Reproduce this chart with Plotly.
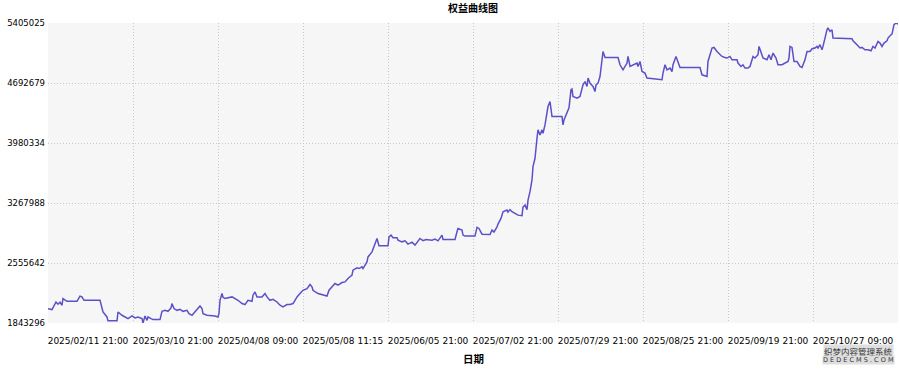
import plotly.graph_objects as go

# ---- data ----
bar_index = [
    0, 4, 8, 10, 12, 14, 15, 17, 19, 29, 32, 34, 36, 52, 53, 55, 59, 60, 69, 70,
    74, 77, 80, 84, 87, 90, 94, 95, 97, 99, 100, 103, 105, 112, 114, 117, 120, 123, 124, 126,
    129, 132, 135, 139, 141, 144, 147, 150, 152, 154, 155, 159, 167, 170, 171, 172, 174, 175, 177, 184,
    187, 190, 194, 197, 200, 204, 205, 207, 209, 214, 217, 219, 222, 225, 229, 232, 235, 239, 242, 245,
    247, 249, 252, 255, 259, 262, 264, 265, 270, 277, 279, 281, 284, 287, 290, 294, 297, 300, 304, 305,
    309, 311, 314, 315, 319, 320, 324, 326, 328, 329, 331, 340, 341, 343, 345, 349, 350, 354, 357, 360,
    364, 367, 370, 372, 375, 378, 384, 387, 390, 394, 395, 407, 409, 410, 414, 415, 417, 427, 429, 431,
    434, 442, 444, 446, 449, 450, 453, 455, 459, 460, 462, 464, 467, 470, 474, 475, 477, 479, 480, 482,
    484, 485, 487, 488, 489, 490, 492, 494, 495, 497, 499, 500, 502, 503, 504, 514, 515, 516, 518, 520,
    521, 523, 524, 525, 529, 532, 535, 537, 539, 540, 542, 545, 547, 548, 550, 552, 554, 555, 557, 570,
    572, 575, 579, 580, 582, 585, 589, 590, 592, 594, 597, 599, 614, 615, 617, 619, 622, 624, 625, 628,
    630, 632, 652, 654, 659, 660, 664, 666, 669, 672, 674, 677, 679, 682, 684, 689, 690, 693, 695, 697,
    700, 702, 704, 705, 707, 710, 711, 713, 715, 719, 721, 723, 725, 728, 730, 734, 737, 740, 741, 742,
    744, 746, 749, 752, 754, 757, 759, 762, 764, 767, 769, 770, 772, 774, 775, 777, 779, 780, 782, 784,
    785, 804, 805, 809, 812, 814, 817, 820, 823, 825, 827, 830, 832, 834, 836, 839, 840, 843, 844, 846,
    848, 850,
]

equity = [
    2012000, 2003000, 2093000, 2066000, 2090000, 2054000, 2134000, 2113000, 2101000, 2101000,
    2161000, 2153000, 2113000, 2113000, 2054000, 1974000, 1915000, 1869000, 1869000, 1974000,
    1935000, 1915000, 1896000, 1927000, 1903000, 1915000, 1896000, 1843296, 1927000, 1875000,
    1915000, 1896000, 1884000, 1884000, 1982000, 1994000, 1982000, 2022000, 2074000, 2015000,
    1994000, 2006000, 1982000, 1994000, 1955000, 1935000, 1974000, 2015000, 2046000, 2015000,
    1955000, 1935000, 1927000, 1915000, 1959000, 2113000, 2193000, 2149000, 2134000, 2153000,
    2134000, 2113000, 2074000, 2062000, 2113000, 2101000, 2173000, 2212000, 2153000, 2153000,
    2193000, 2153000, 2113000, 2125000, 2093000, 2054000, 2034000, 2062000, 2062000, 2074000,
    2113000, 2153000, 2193000, 2232000, 2252000, 2300000, 2272000, 2232000, 2193000, 2173000,
    2164000, 2232000, 2272000, 2312000, 2292000, 2324000, 2331000, 2372000, 2411000, 2470000,
    2498000, 2490000, 2510000, 2490000, 2569000, 2628000, 2688000, 2747000, 2827000, 2847000,
    2759000, 2759000, 2866000, 2887000, 2855000, 2855000, 2827000, 2807000, 2819000, 2780000,
    2803000, 2768000, 2815000, 2847000, 2821000, 2835000, 2827000, 2839000, 2819000, 2887000,
    2835000, 2835000, 2926000, 2966000, 2946000, 2887000, 2875000, 2875000, 2978000, 2966000,
    2898000, 2893000, 2946000, 2922000, 2985000, 3017000, 3085000, 3164000, 3184000, 3160000,
    3190000, 3164000, 3145000, 3124000, 3118000, 3220000, 3243000, 3190000, 3303000, 3402000,
    3541000, 3699000, 3799000, 3977000, 4037000, 4136000, 4076000, 4136000, 4096000, 4195000,
    4374000, 4413000, 4472000, 4353000, 4294000, 4294000, 4195000, 4255000, 4314000, 4374000,
    4397000, 4612000, 4620000, 4532000, 4513000, 4532000, 4671000, 4710000, 4651000, 4751000,
    4691000, 4651000, 4591000, 4671000, 4691000, 4770000, 4948000, 5067000, 4996000, 4996000,
    4909000, 4849000, 4929000, 5008000, 4889000, 4909000, 4929000, 4889000, 4948000, 4829000,
    4810000, 4751000, 4731000, 4810000, 4909000, 4849000, 4870000, 4829000, 4909000, 5008000,
    4948000, 4877000, 4877000, 4790000, 4770000, 4948000, 5108000, 5115000, 5067000, 5036000,
    5008000, 4996000, 4989000, 5008000, 4968000, 4968000, 4929000, 4889000, 4909000, 4870000,
    4870000, 4889000, 4968000, 5008000, 4989000, 5028000, 5127000, 5067000, 4989000, 4968000,
    5028000, 4968000, 5048000, 4989000, 4909000, 4909000, 4929000, 4948000, 4989000, 5127000,
    5115000, 4948000, 4948000, 4889000, 4877000, 4968000, 5067000, 5067000, 5099000, 5108000,
    5127000, 5108000, 5147000, 5087000, 5127000, 5246000, 5325000, 5346000, 5305000, 5325000,
    5226000, 5218000, 5194000, 5147000, 5108000, 5115000, 5087000, 5087000, 5075000, 5127000,
    5108000, 5186000, 5167000, 5127000, 5167000, 5194000, 5226000, 5266000, 5274000, 5385000,
    5405025, 5393000,
]

x_tick_bars = [0, 85, 170, 255, 340, 425, 510, 595, 680, 765]
x_tick_labels = [
    "2025/02/11 21:00", "2025/03/10 21:00", "2025/04/08 09:00", "2025/05/08 11:15",
    "2025/06/05 21:00", "2025/07/02 21:00", "2025/07/29 21:00", "2025/08/25 21:00",
    "2025/09/19 21:00", "2025/10/27 09:00",
]
y_tick_values = [1843296, 2555642, 3267988, 3980334, 4692679, 5405025]
y_tick_labels = ["1843296", "2555642", "3267988", "3980334", "4692679", "5405025"]
x_last_bar = 850

title_text = "权益曲线图"
x_title_text = "日期"
watermark_top = "织梦内容管理系统"
watermark_bottom = "D E D E C M S . C O M"

# ---- figure ----
fig = go.Figure(
    go.Scatter(
        x=bar_index,
        y=equity,
        mode="lines",
        line=dict(color="#5b50c8", width=1.5),
        hoverinfo="skip",
    )
)

grid_color = "#c8c8c8"
grid_dash = "1px,2px"
fig.update_layout(
    width=900,
    height=370,
    margin=dict(l=48, r=2, t=23, b=47, autoexpand=False),
    paper_bgcolor="#ffffff",
    plot_bgcolor="#f6f6f6",
    showlegend=False,
    title=dict(
        text=title_text,
        font=dict(family="Noto Sans CJK SC", size=10, color="#000000", weight="bold"),
        x=0.5, xref="paper", xanchor="center",
        y=1 - 8 / 370, yref="container", yanchor="middle",
    ),
    xaxis=dict(
        range=[0, x_last_bar],
        tickmode="array",
        tickvals=x_tick_bars,
        ticktext=x_tick_labels,
        showgrid=True, gridcolor=grid_color, griddash=grid_dash, gridwidth=1,
        zeroline=False, showline=False, ticks="",
        tickfont=dict(family="DejaVu Sans", size=9, color="#000000"),
        ticklabelshift=40,
        ticklabelstandoff=11,
        fixedrange=True,
    ),
    yaxis=dict(
        range=[y_tick_values[0], y_tick_values[-1]],
        tickmode="array",
        tickvals=y_tick_values,
        ticktext=y_tick_labels,
        showgrid=True, gridcolor=grid_color, griddash=grid_dash, gridwidth=1,
        zeroline=False, showline=False, ticks="",
        tickfont=dict(family="DejaVu Sans", size=8.5, color="#000000"),
        ticklabelstandoff=2,
        fixedrange=True,
    ),
    annotations=[
        dict(
            text=x_title_text, xref="paper", yref="paper", x=0.5, y=-(358 - 322.7) / 299.4,
            xanchor="center", yanchor="middle", showarrow=False,
            font=dict(family="Noto Sans CJK SC", size=10.5, color="#000000", weight="bold"),
        ),
        dict(
            text=watermark_top, xref="paper", yref="paper", x=(858 - 48) / 850, y=-(351 - 322.7) / 299.4,
            xanchor="center", yanchor="middle", showarrow=False, bgcolor="#dedede", borderpad=0,
            font=dict(family="Noto Sans CJK SC", size=8.5, color="#333333"),
        ),
        dict(
            text=watermark_bottom, xref="paper", yref="paper", x=(858 - 48) / 850, y=-(359.5 - 322.7) / 299.4,
            xanchor="center", yanchor="middle", showarrow=False, bgcolor="#dedede", borderpad=0,
            font=dict(family="DejaVu Sans", size=6.5, color="#333333"),
        ),
    ],
)

fig.write_html("out.html")
